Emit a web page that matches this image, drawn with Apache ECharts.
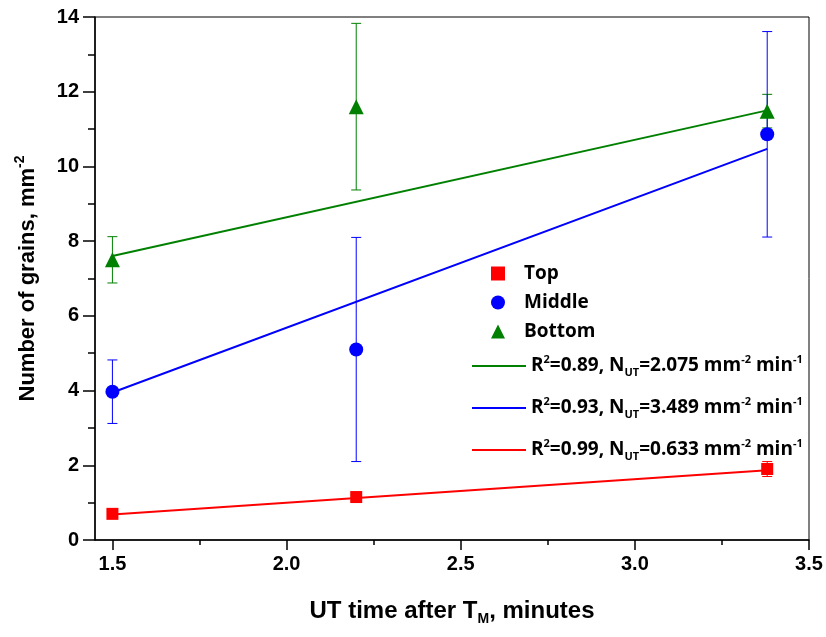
<!DOCTYPE html>
<html>
<head>
<meta charset="utf-8">
<script src="https://cdn.jsdelivr.net/npm/echarts@6/dist/echarts.min.js"></script>
<style>
  html, body { margin: 0; padding: 0; background: #fff; }
  #chart { width: 826px; height: 637px; }
</style>
</head>
<body>
<div id="chart"></div>
<script>
// time after T_M, minutes
const times = [1.5, 2.2, 3.38]

const topMean = [0.7, 1.15, 1.9]
const topErr = [0.05, 0.08, 0.2]
const middleMean = [3.97, 5.1, 10.86]
const middleErr = [0.85, 3.0, 2.75]
const bottomMean = [7.5, 11.6, 11.48]
const bottomErr = [0.62, 2.23, 0.45]

// linear fit end points (x = 1.5 and x = 3.38)
const fitX = [1.5, 3.38]
const fitTop = [0.68, 1.87]
const fitMiddle = [3.95, 10.47]
const fitBottom = [7.6, 11.5]

const xMajor = [1.5, 2.0, 2.5, 3.0, 3.5]
const xMinor = [1.75, 2.25, 2.75, 3.25]

const RED = '#ff0000'
const BLUE = '#0000ff'
const GREEN = '#008000'

const chart = echarts.init(document.getElementById('chart'))

const pairs = (xs, ys) => xs.map((x, i) => [x, ys[i]])
const errData = (ys, es) => times.map((x, i) => [x, ys[i] - es[i], ys[i] + es[i]])

function errorBars(color) {
  return function (params, api) {
    const lo = api.coord([api.value(0), api.value(1)])
    const hi = api.coord([api.value(0), api.value(2)])
    const w = 5
    const style = { stroke: color, lineWidth: 1 }
    return {
      type: 'group',
      children: [
        { type: 'line', shape: { x1: lo[0], y1: lo[1], x2: hi[0], y2: hi[1] }, style },
        { type: 'line', shape: { x1: lo[0] - w, y1: lo[1], x2: lo[0] + w, y2: lo[1] }, style },
        { type: 'line', shape: { x1: hi[0] - w, y1: hi[1], x2: hi[0] + w, y2: hi[1] }, style },
      ],
    }
  }
}

const LEG_FONT = 'Open Sans'
const rich = {
  t: { fontFamily: LEG_FONT, fontWeight: 'bold', fontSize: 19, color: '#000', lineHeight: 24, verticalAlign: 'middle' },
  p: { fontFamily: LEG_FONT, fontWeight: 'bold', fontSize: 19, color: '#000', lineHeight: 24, verticalAlign: 'middle', padding: [0, 0, 0, 14] },
  sup: { fontFamily: LEG_FONT, fontWeight: 'bold', fontSize: 11, color: '#000', lineHeight: 11, verticalAlign: 'top' },
  sub: { fontFamily: LEG_FONT, fontWeight: 'bold', fontSize: 11, color: '#000', lineHeight: 11, verticalAlign: 'bottom' },
}

const fitNames = {
  fitB: '{t|R}{sup|2}{t|=0.89, N}{sub|UT}{t|=2.075 mm}{sup|-2}{t| min}{sup|-1}',
  fitM: '{t|R}{sup|2}{t|=0.93, N}{sub|UT}{t|=3.489 mm}{sup|-2}{t| min}{sup|-1}',
  fitT: '{t|R}{sup|2}{t|=0.99, N}{sub|UT}{t|=0.633 mm}{sup|-2}{t| min}{sup|-1}',
}

const AX_FONT = 'Liberation Sans, Arial, sans-serif'
const axisFont = { fontFamily: AX_FONT, fontWeight: 'bold', fontSize: 20, color: '#000' }

const option = {
  animation: false,
  grid: {
    left: 95, right: 17, top: 17, bottom: 97,
    show: true, borderColor: '#000', borderWidth: 1, backgroundColor: 'transparent',
  },
  legend: [
    {
      data: [
        { name: 'Top', icon: 'rect' },
        { name: 'Middle', icon: 'circle' },
        { name: 'Bottom', icon: 'triangle' },
      ],
      orient: 'vertical',
      left: 486, top: 259,
      itemWidth: 14, itemHeight: 14, itemGap: 10,
      formatter: (name) => '{p|' + name + '}',
      textStyle: { rich },
    },
    {
      data: ['fitB', 'fitM', 'fitT'],
      orient: 'vertical',
      left: 467, top: 349,
      icon: 'rect',
      itemWidth: 54, itemHeight: 2, itemGap: 18,
      formatter: (name) => fitNames[name],
      textStyle: { rich },
    },
  ],
  xAxis: [
    {
      type: 'value', min: 1.45, max: 3.5,
      name: '{t|UT time after T}{s|M}{t|, minutes}',
      nameLocation: 'middle', nameGap: 56,
      nameTextStyle: {
        rich: {
          t: { fontFamily: AX_FONT, fontWeight: 'bold', fontSize: 24, color: '#000', lineHeight: 30, verticalAlign: 'middle' },
          s: { fontFamily: AX_FONT, fontWeight: 'bold', fontSize: 14, color: '#000', lineHeight: 14, verticalAlign: 'bottom' },
        },
      },
      axisLine: { onZero: false, lineStyle: { color: '#000', width: 1.5 } },
      axisTick: { length: 10, customValues: xMajor, lineStyle: { color: '#000', width: 1.5 } },
      axisLabel: { customValues: xMajor, margin: 14, formatter: (v) => v.toFixed(1), ...axisFont },
      splitLine: { show: false },
    },
    {
      type: 'value', min: 1.45, max: 3.5, position: 'bottom',
      axisLine: { show: false },
      axisTick: { length: 5, customValues: xMinor, lineStyle: { color: '#000', width: 1.5 } },
      axisLabel: { show: false },
      splitLine: { show: false },
    },
  ],
  yAxis: {
    type: 'value', min: 0, max: 14, interval: 2,
    name: '{t|Number of grains, mm}{s|-2}',
    nameLocation: 'middle', nameGap: 52,
    nameTextStyle: {
      rich: {
        t: { fontFamily: AX_FONT, fontWeight: 'bold', fontSize: 22, color: '#000', lineHeight: 30, verticalAlign: 'middle' },
        s: { fontFamily: AX_FONT, fontWeight: 'bold', fontSize: 14, color: '#000', lineHeight: 14, verticalAlign: 'top' },
      },
    },
    axisLine: { show: true, lineStyle: { color: '#000', width: 1.5 } },
    axisTick: { show: true, length: 12, lineStyle: { color: '#000', width: 1.5 } },
    minorTick: { show: true, splitNumber: 2, length: 7, lineStyle: { color: '#000', width: 1.5 } },
    axisLabel: { margin: 16, ...axisFont },
    splitLine: { show: false },
  },
  series: [
    { name: 'fitB', type: 'line', data: pairs(fitX, fitBottom), symbol: 'none', lineStyle: { color: GREEN, width: 2 }, itemStyle: { color: GREEN } },
    { name: 'fitM', type: 'line', data: pairs(fitX, fitMiddle), symbol: 'none', lineStyle: { color: BLUE, width: 2 }, itemStyle: { color: BLUE } },
    { name: 'fitT', type: 'line', data: pairs(fitX, fitTop), symbol: 'none', lineStyle: { color: RED, width: 2 }, itemStyle: { color: RED } },
    { type: 'custom', renderItem: errorBars(GREEN), data: errData(bottomMean, bottomErr), encode: { x: 0, y: [1, 2] }, z: 3 },
    { type: 'custom', renderItem: errorBars(BLUE), data: errData(middleMean, middleErr), encode: { x: 0, y: [1, 2] }, z: 3 },
    { type: 'custom', renderItem: errorBars(RED), data: errData(topMean, topErr), encode: { x: 0, y: [1, 2] }, z: 3 },
    { name: 'Top', type: 'scatter', data: pairs(times, topMean), symbol: 'rect', symbolSize: 12, itemStyle: { color: RED, opacity: 1 }, z: 4 },
    { name: 'Middle', type: 'scatter', data: pairs(times, middleMean), symbol: 'circle', symbolSize: 14, itemStyle: { color: BLUE, opacity: 1 }, z: 4 },
    { name: 'Bottom', type: 'scatter', data: pairs(times, bottomMean), symbol: 'triangle', symbolSize: 15, itemStyle: { color: GREEN, opacity: 1 }, z: 4 },
  ],
}

chart.setOption(option)
</script>
</body>
</html>
